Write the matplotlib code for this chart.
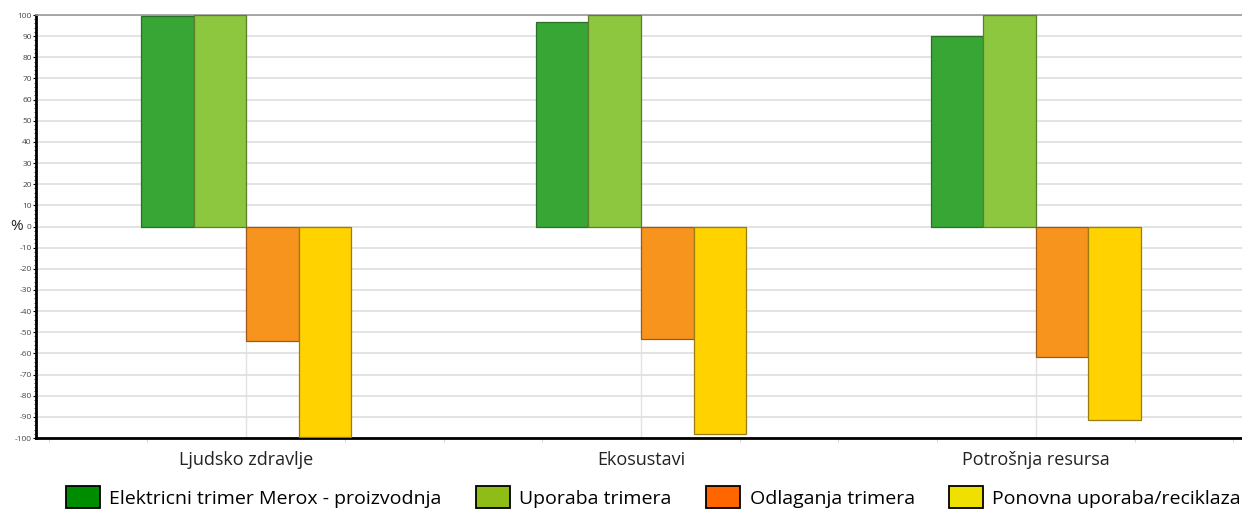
import matplotlib
matplotlib.use("Agg")
import matplotlib.pyplot as plt
import numpy as np
from matplotlib.patches import Patch

plt.rcParams['font.family'] = ['Open Sans', 'DejaVu Sans']

# Data
categories = ['Ljudsko zdravlje', 'Ekosustavi', 'Potrošnja resursa']
series_names = ['Elektricni trimer Merox - proizvodnja', 'Uporaba trimera',
                'Odlaganja trimera', 'Ponovna uporaba/reciklaza']
proizvodnja = [99.3, 96.9, 90.3]
uporaba = [99.8, 99.8, 100.0]
odlaganje = [-53.9, -53.4, -61.9]
reciklaza = [-99.3, -97.9, -91.3]

bar_colors = ['#37a635', '#8dc63f', '#f7941d', '#ffd200']
edge_colors = ['#2a6e27', '#5b7f2a', '#a0581a', '#9a7d10']
legend_colors = ['#008c00', '#8fbc16', '#ff6600', '#f0e000']

fig = plt.figure(figsize=(12.42, 5.12), dpi=100)
ax = fig.add_axes([0.029, 0.1445, 0.971, 0.8262])

x = np.arange(len(categories))
w = 0.133
values = [proizvodnja, uporaba, odlaganje, reciklaza]
offsets = [-1.5, -0.5, 0.5, 1.5]
for vals, off, c, ec in zip(values, offsets, bar_colors, edge_colors):
    ax.bar(x + off * w, vals, w, color=c, edgecolor=ec, linewidth=0.9, zorder=3)

ax.set_xlim(-0.532, 2.522)
ax.set_ylim(-100, 100)
ax.set_yticks(np.arange(-100, 101, 10))
ax.set_yticklabels([str(v) for v in range(-100, 101, 10)], fontsize=6, color='#444444')
ax.set_xticks(x)
ax.set_xticklabels([])
ax.set_xticks(np.arange(-0.5, 2.6, 0.25), minor=True)
ax.tick_params(axis='x', which='major', length=0)
ax.tick_params(axis='x', which='minor', length=3, color='#cccccc')
ax.tick_params(axis='y', length=2, width=0.8, pad=1)
ax.yaxis.set_minor_locator(matplotlib.ticker.MultipleLocator(2))
ax.tick_params(axis='y', which='minor', length=1.5, width=0.5)

ax.grid(axis='y', color='#dedede', linewidth=1.2, zorder=0)
for xi in x:
    ax.axvline(xi, color='#e2e2e2', linewidth=1, zorder=0)

ax.spines['left'].set_linewidth(2)
ax.spines['bottom'].set_linewidth(2)
ax.spines['top'].set_color('#999999')
ax.spines['top'].set_linewidth(1.2)
ax.spines['right'].set_visible(False)

for xi, cat in zip(x, categories):
    ax.text(xi, -106, cat, ha='center', va='top', fontsize=13, color='#222222',
            transform=ax.transData, clip_on=False)

fig.text(0.008, 1 - 227 / 512, '%', fontsize=11, ha='left', va='center', color='#222222')

handles = [Patch(facecolor=c, edgecolor='black', linewidth=1.3) for c in legend_colors]
fig.legend(handles, series_names, loc='center', bbox_to_anchor=(0.526, 0.029), ncol=4,
           frameon=False, fontsize=14, handlelength=1.75, handleheight=1.4,
           columnspacing=1.75, handletextpad=0.5, borderpad=0, borderaxespad=0)

plt.savefig("out.png", dpi=100)
